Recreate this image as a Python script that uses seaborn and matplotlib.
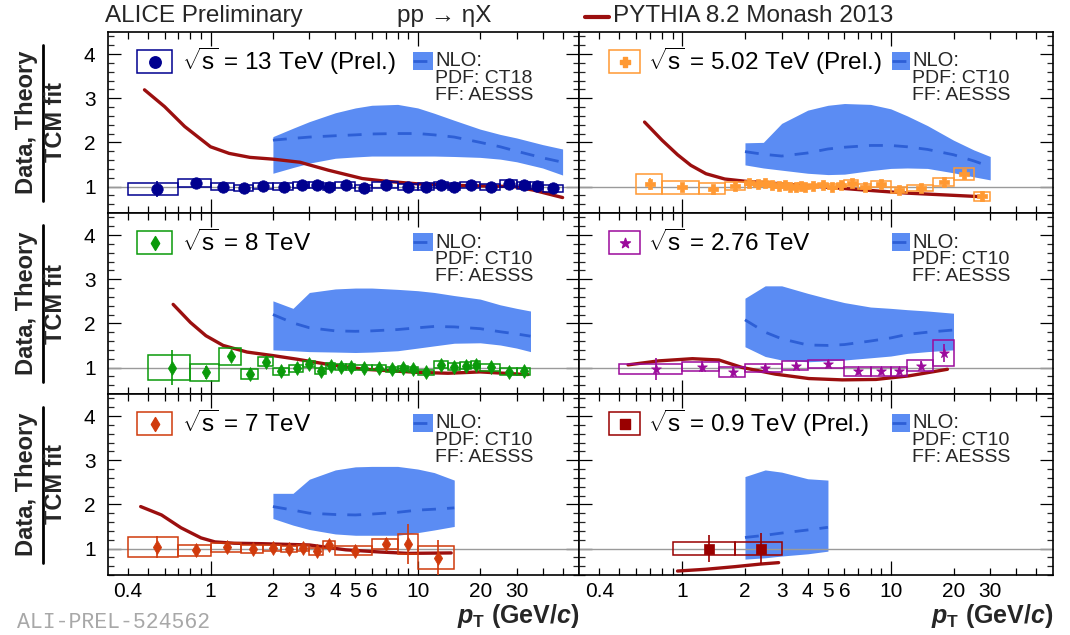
import matplotlib
matplotlib.use("Agg")
import matplotlib.pyplot as plt
import seaborn as sns
from matplotlib.patches import Rectangle
from matplotlib.lines import Line2D
from matplotlib.ticker import FixedLocator, FuncFormatter, MultipleLocator

# ---------------- data: ratio to TCM fit ----------------
# 13 TeV
edges_13 = [0.4, 0.7, 1.0, 1.3, 1.6, 2.0, 2.5, 3.0, 3.5, 4.0, 5.0, 6.0, 8.0, 10.0,
            12.0, 14.0, 16.0, 20.0, 25.0, 30.0, 35.0, 40.0, 50.0]
ratio_13 = [0.94, 1.07, 1.00, 0.97, 1.01, 1.00, 1.04, 1.03, 1.00, 1.03, 0.97, 1.04,
            0.98, 1.00, 1.03, 1.00, 1.03, 0.98, 1.06, 1.03, 1.02, 0.96]
stat_13 = [0.18, 0.04, 0.02, 0.02, 0.02, 0.02, 0.02, 0.02, 0.02, 0.02, 0.02, 0.02,
           0.02, 0.02, 0.02, 0.02, 0.02, 0.03, 0.03, 0.03, 0.04, 0.05]
sys_13 = [0.13, 0.09, 0.07, 0.07, 0.07, 0.07, 0.07, 0.07, 0.07, 0.07, 0.07, 0.07,
          0.07, 0.07, 0.07, 0.07, 0.07, 0.07, 0.08, 0.08, 0.08, 0.08]
pythia_x_13 = [0.48, 0.6, 0.75, 1.0, 1.23, 1.55, 2.0, 2.7, 3.7, 5.4, 7.0, 10.0, 17.0, 29.0, 36.0, 50.0]
pythia_y_13 = [3.19, 2.81, 2.36, 1.90, 1.75, 1.66, 1.62, 1.55, 1.37, 1.18, 1.12, 1.06, 1.02, 1.00, 0.92, 0.75]
nlo_x_13 = [2, 2.5, 3, 4, 5, 6, 8, 10, 12, 15, 20, 25, 30, 40, 50]
nlo_lo_13 = [1.30, 1.43, 1.53, 1.64, 1.67, 1.69, 1.69, 1.69, 1.69, 1.68, 1.66, 1.62, 1.56, 1.42, 1.26]
nlo_mid_13 = [2.05, 2.09, 2.12, 2.15, 2.17, 2.19, 2.20, 2.20, 2.17, 2.12, 2.00, 1.90, 1.80, 1.65, 1.55]
nlo_hi_13 = [2.13, 2.32, 2.47, 2.67, 2.78, 2.84, 2.86, 2.78, 2.66, 2.50, 2.30, 2.18, 2.10, 1.95, 1.85]

# 5.02 TeV
edges_502 = [0.6, 0.8, 1.2, 1.6, 2.0, 2.2, 2.4, 2.6, 2.8, 3.0, 3.2, 3.4, 3.6, 3.8, 4.0,
             4.5, 5.0, 5.5, 6.0, 7.0, 8.0, 10.0, 12.0, 16.0, 20.0, 25.0, 30.0]
ratio_502 = [1.06, 0.98, 0.95, 1.02, 1.08, 1.05, 1.07, 1.03, 1.02, 1.04, 1.00, 0.98,
             1.02, 0.99, 1.01, 1.03, 1.00, 1.04, 1.08, 1.00, 1.06, 0.92, 0.97, 1.11, 1.28, 0.78]
stat_502 = [0.13, 0.05, 0.04, 0.03, 0.03, 0.03, 0.03, 0.03, 0.03, 0.03, 0.03, 0.03,
            0.03, 0.03, 0.03, 0.03, 0.03, 0.03, 0.03, 0.03, 0.04, 0.05, 0.05, 0.07, 0.09, 0.1]
sys_502 = [0.23, 0.14, 0.12, 0.09, 0.05, 0.05, 0.05, 0.05, 0.05, 0.05, 0.05, 0.05,
           0.05, 0.05, 0.05, 0.05, 0.05, 0.05, 0.07, 0.06, 0.07, 0.07, 0.07, 0.09, 0.13, 0.1]
pythia_x_502 = [0.66, 0.8, 0.95, 1.1, 1.3, 1.6, 2.0, 3.0, 4.5, 7.0, 12.0, 20.0, 27.0]
pythia_y_502 = [2.46, 2.05, 1.72, 1.48, 1.29, 1.17, 1.12, 1.06, 1.00, 0.93, 0.85, 0.80, 0.77]
nlo_x_502 = [2, 2.45, 3, 4, 5, 6, 8, 10, 12, 15, 20, 25, 30]
nlo_lo_502 = [1.49, 1.42, 1.37, 1.30, 1.27, 1.28, 1.36, 1.41, 1.42, 1.41, 1.31, 1.22, 1.15]
nlo_mid_502 = [1.79, 1.73, 1.69, 1.76, 1.85, 1.89, 1.93, 1.93, 1.90, 1.84, 1.72, 1.58, 1.45]
nlo_hi_502 = [1.99, 2.00, 2.43, 2.73, 2.84, 2.88, 2.86, 2.76, 2.60, 2.38, 2.05, 1.83, 1.68]

# 8 TeV
edges_8 = [0.5, 0.8, 1.1, 1.4, 1.7, 2.0, 2.4, 2.8, 3.2, 3.6, 4.0, 4.5, 5.0, 6.0, 7.0,
           8.0, 9.0, 10.0, 12.0, 14.0, 16.0, 18.0, 20.0, 25.0, 30.0, 35.0]
ratio_8 = [1.00, 0.89, 1.25, 0.85, 1.13, 0.91, 0.98, 1.08, 0.92, 1.04, 1.01, 1.01,
           1.00, 1.00, 0.96, 0.98, 0.96, 0.89, 1.06, 1.02, 1.04, 1.06, 1.01, 0.90, 0.91]
stat_8 = [0.40, 0.15, 0.08, 0.05, 0.05, 0.04, 0.03, 0.03, 0.03, 0.03, 0.03, 0.03,
          0.03, 0.03, 0.03, 0.03, 0.03, 0.03, 0.03, 0.03, 0.03, 0.04, 0.04, 0.05, 0.06]
sys_8 = [0.28, 0.19, 0.20, 0.11, 0.10, 0.09, 0.08, 0.07, 0.07, 0.07, 0.06, 0.06,
         0.06, 0.06, 0.06, 0.06, 0.06, 0.06, 0.08, 0.08, 0.08, 0.08, 0.08, 0.08, 0.09]
pythia_x_8 = [0.66, 0.8, 0.95, 1.15, 1.5, 2.0, 2.6, 3.7, 5.5, 10.0, 14.0, 20.0, 34.0]
pythia_y_8 = [2.43, 2.02, 1.72, 1.50, 1.35, 1.27, 1.19, 1.07, 0.96, 0.89, 0.87, 0.90, 0.84]
nlo_x_8 = [2, 2.5, 3, 4, 5, 6, 8, 10, 12, 15, 20, 25, 30, 35]
nlo_lo_8 = [1.40, 1.38, 1.36, 1.35, 1.34, 1.35, 1.38, 1.44, 1.49, 1.55, 1.56, 1.51, 1.44, 1.36]
nlo_mid_8 = [2.20, 2.01, 1.90, 1.83, 1.82, 1.83, 1.86, 1.90, 1.93, 1.92, 1.88, 1.81, 1.76, 1.71]
nlo_hi_8 = [2.51, 2.34, 2.70, 2.78, 2.80, 2.80, 2.77, 2.74, 2.70, 2.63, 2.55, 2.42, 2.34, 2.28]

# 2.76 TeV
edges_276 = [0.5, 1.0, 1.5, 2.0, 3.0, 4.0, 6.0, 8.0, 10.0, 12.0, 16.0, 20.0]
ratio_276 = [0.96, 1.02, 0.90, 0.99, 1.04, 1.08, 0.91, 0.91, 0.91, 1.04, 1.33]
stat_276 = [0.25, 0.12, 0.12, 0.06, 0.08, 0.08, 0.08, 0.08, 0.08, 0.10, 0.20]
sys_276 = [0.11, 0.11, 0.12, 0.10, 0.10, 0.10, 0.11, 0.11, 0.11, 0.12, 0.29]
pythia_x_276 = [0.55, 0.77, 1.12, 1.5, 1.94, 2.8, 4.05, 5.85, 8.5, 12.2, 18.7]
pythia_y_276 = [1.06, 1.15, 1.20, 1.17, 1.00, 0.85, 0.75, 0.72, 0.73, 0.81, 0.96]
nlo_x_276 = [2, 2.5, 3, 4, 5, 6, 8, 10, 12, 15, 20]
nlo_lo_276 = [1.47, 1.25, 1.17, 1.13, 1.15, 1.17, 1.22, 1.26, 1.32, 1.36, 1.40]
nlo_mid_276 = [2.08, 1.80, 1.65, 1.51, 1.50, 1.52, 1.60, 1.67, 1.75, 1.80, 1.85]
nlo_hi_276 = [2.57, 2.85, 2.85, 2.68, 2.56, 2.47, 2.37, 2.34, 2.31, 2.28, 2.23]

# 7 TeV
edges_7 = [0.4, 0.7, 1.0, 1.4, 1.8, 2.2, 2.6, 3.0, 3.5, 4.0, 6.0, 8.0, 10.0, 15.0]
ratio_7 = [1.03, 0.96, 1.03, 0.98, 1.01, 0.99, 1.01, 0.94, 1.09, 0.95, 1.11, 1.10, 0.79]
stat_7 = [0.25, 0.10, 0.06, 0.05, 0.05, 0.05, 0.05, 0.06, 0.07, 0.08, 0.12, 0.45, 0.40]
sys_7 = [0.23, 0.12, 0.10, 0.09, 0.07, 0.07, 0.07, 0.08, 0.08, 0.10, 0.11, 0.23, 0.26]
pythia_x_7 = [0.46, 0.58, 0.72, 0.9, 1.05, 1.3, 1.75, 3.0, 4.5, 6.6, 9.0, 14.5]
pythia_y_7 = [1.95, 1.76, 1.47, 1.24, 1.15, 1.12, 1.11, 1.08, 0.97, 0.92, 0.89, 0.90]
nlo_x_7 = [2, 2.5, 3, 4, 5, 6, 8, 10, 12, 15]
nlo_lo_7 = [1.68, 1.53, 1.43, 1.33, 1.30, 1.30, 1.30, 1.36, 1.42, 1.50]
nlo_mid_7 = [1.95, 1.87, 1.80, 1.77, 1.76, 1.78, 1.82, 1.87, 1.89, 1.92]
nlo_hi_7 = [2.25, 2.25, 2.57, 2.78, 2.85, 2.86, 2.86, 2.80, 2.72, 2.55]

# 0.9 TeV
edges_09 = [0.9, 1.8, 3.0]
ratio_09 = [1.00, 1.00]
stat_09 = [0.31, 0.36]
sys_09 = [0.14, 0.14]
pythia_x_09 = [0.95, 1.3, 1.8, 2.4, 2.9]
pythia_y_09 = [0.49, 0.53, 0.59, 0.65, 0.68]
nlo_x_09 = [2, 2.5, 3, 4, 5]
nlo_lo_09 = [0.76, 0.79, 0.83, 0.88, 0.94]
nlo_mid_09 = [1.25, 1.30, 1.35, 1.42, 1.48]
nlo_hi_09 = [2.63, 2.78, 2.73, 2.58, 2.55]

energy_labels = ["13 TeV (Prel.)", "5.02 TeV (Prel.)", "8 TeV", "2.76 TeV", "7 TeV", "0.9 TeV (Prel.)"]
pdf_labels = ["CT18", "CT10", "CT10", "CT10", "CT10", "CT10"]
xtick_values = [0.4, 1, 2, 3, 4, 5, 6, 10, 20, 30]
xtick_texts = ["0.4", "1", "2", "3", "4", "5", "6", "10", "20", "30"]

# ---------------- style ----------------
sns.set_theme(style="ticks")
plt.rcParams["font.family"] = ["Liberation Sans", "DejaVu Sans"]
plt.rcParams["mathtext.fontset"] = "custom"
plt.rcParams["mathtext.rm"] = "Liberation Sans"
plt.rcParams["mathtext.it"] = "Liberation Sans:italic:bold"
plt.rcParams["mathtext.bf"] = "Liberation Sans:bold"

BAND = "#5b8cf3"
DASH = "#2d5fd6"
PYTHIA = "#9b0f0f"
REFLINE = "#9a9a9a"

W, H = 1070, 635
fig = plt.figure(figsize=(W / 100, H / 100), dpi=100)
fig.patch.set_facecolor("white")

cols = [(108, 471), (579, 474)]          # left, width in pixels
rows = [(32, 181), (213, 181), (394, 181)]  # top, height in pixels

panels = [
    dict(edges=edges_13, y=ratio_13, stat=stat_13, sys=sys_13, px=pythia_x_13, py=pythia_y_13,
         nx=nlo_x_13, nlo=nlo_lo_13, nmid=nlo_mid_13, nhi=nlo_hi_13,
         color="#00008f", marker="o", ms=68),
    dict(edges=edges_502, y=ratio_502, stat=stat_502, sys=sys_502, px=pythia_x_502, py=pythia_y_502,
         nx=nlo_x_502, nlo=nlo_lo_502, nmid=nlo_mid_502, nhi=nlo_hi_502,
         color="#ff9933", marker="P", ms=45),
    dict(edges=edges_8, y=ratio_8, stat=stat_8, sys=sys_8, px=pythia_x_8, py=pythia_y_8,
         nx=nlo_x_8, nlo=nlo_lo_8, nmid=nlo_mid_8, nhi=nlo_hi_8,
         color="#0a9a0a", marker="d", ms=50),
    dict(edges=edges_276, y=ratio_276, stat=stat_276, sys=sys_276, px=pythia_x_276, py=pythia_y_276,
         nx=nlo_x_276, nlo=nlo_lo_276, nmid=nlo_mid_276, nhi=nlo_hi_276,
         color="#9b0a9b", marker="*", ms=55),
    dict(edges=edges_7, y=ratio_7, stat=stat_7, sys=sys_7, px=pythia_x_7, py=pythia_y_7,
         nx=nlo_x_7, nlo=nlo_lo_7, nmid=nlo_mid_7, nhi=nlo_hi_7,
         color="#d03a0c", marker="d", ms=50),
    dict(edges=edges_09, y=ratio_09, stat=stat_09, sys=sys_09, px=pythia_x_09, py=pythia_y_09,
         nx=nlo_x_09, nlo=nlo_lo_09, nmid=nlo_mid_09, nhi=nlo_hi_09,
         color="#990000", marker="s", ms=45),
]

label_map = {round(v, 3): t for v, t in zip(xtick_values, xtick_texts)}
xminor = [0.4, 0.5, 0.6, 0.7, 0.8, 0.9, 2, 3, 4, 5, 6, 7, 8, 9, 20, 30, 40, 50]


def fmt_x(v, pos):
    return label_map.get(round(v, 3), "")


for i, p in enumerate(panels):
    r, c = divmod(i, 2)
    x0, w = cols[c]
    top, h = rows[r]
    ax = fig.add_axes([x0 / W, 1 - (top + h) / H, w / W, h / H])
    ax.set_xscale("log")
    ax.set_xlim(0.32, 60)
    ax.set_ylim(0.4, 4.5)
    ax.set_facecolor("white")

    # NLO band + central value
    ax.fill_between(p["nx"], p["nlo"], p["nhi"], color=BAND, lw=0, zorder=1)
    sns.lineplot(x=p["nx"], y=p["nmid"], ax=ax, color=DASH, lw=2.0, linestyle=(0, (5, 4)),
                 estimator=None, sort=False, legend=False, zorder=2)
    ax.axhline(1.0, color=REFLINE, lw=1.0, zorder=2.5)

    # PYTHIA
    sns.lineplot(x=p["px"], y=p["py"], ax=ax, color=PYTHIA, lw=2.4,
                 estimator=None, sort=False, legend=False, zorder=3)

    # data: systematic boxes, statistical bars, markers
    edges = p["edges"]
    centers = [(a + b) / 2 for a, b in zip(edges[:-1], edges[1:])]
    for a, b, v, s in zip(edges[:-1], edges[1:], p["y"], p["sys"]):
        ax.add_patch(Rectangle((a, v - s), b - a, 2 * s, fill=False, ec=p["color"], lw=1.1, zorder=4))
    ax.errorbar(centers, p["y"], yerr=p["stat"], fmt="none", ecolor=p["color"], elinewidth=1.2,
                capsize=0, zorder=5)
    sns.scatterplot(x=centers, y=p["y"], ax=ax, marker=p["marker"], s=p["ms"], color=p["color"],
                    edgecolor=p["color"], linewidth=0.5, legend=False, zorder=6)

    # axes styling
    for sp in ax.spines.values():
        sp.set_color("black")
        sp.set_linewidth(1.2)
        sp.set_visible(True)
    ax.xaxis.set_major_locator(FixedLocator([1, 10]))
    ax.xaxis.set_minor_locator(FixedLocator(xminor))
    ax.xaxis.set_major_formatter(FuncFormatter(fmt_x))
    ax.xaxis.set_minor_formatter(FuncFormatter(fmt_x))
    ax.yaxis.set_major_locator(MultipleLocator(1))
    ax.yaxis.set_minor_locator(MultipleLocator(0.2))
    ax.tick_params(axis="x", which="major", direction="in", length=10, width=0.9,
                   top=True, bottom=True, pad=5, labelsize=15, colors="black")
    ax.tick_params(axis="x", which="minor", direction="in", length=5, width=0.9,
                   top=True, bottom=True, pad=5, labelsize=15, colors="black")
    ax.tick_params(axis="y", which="major", direction="in", length=9.5, width=0.9,
                   left=True, right=True, pad=9, labelsize=15, colors="black")
    ax.tick_params(axis="y", which="minor", direction="in", length=4.5, width=0.9,
                   left=True, right=True)
    ax.tick_params(axis="x", which="both", labelbottom=(r == 2))
    ax.tick_params(axis="y", which="both", labelleft=(c == 0))
    ax.set_xlabel("")
    ax.set_ylabel("")

    # legend: data entry
    def axf(dx, dy):
        return dx / w, 1 - dy / h

    bx0, bx1, tx = (29, 64, 74) if c == 0 else (30, 61, 69)
    lx0, ly0 = axf(bx0, 41)
    lx1, ly1 = axf(bx1, 18)
    ax.add_patch(Rectangle((lx0, ly0), lx1 - lx0, ly1 - ly0, transform=ax.transAxes, fill=False,
                           ec=p["color"], lw=1.1, zorder=7))
    ax.scatter([(lx0 + lx1) / 2], [(ly0 + ly1) / 2], transform=ax.transAxes, marker=p["marker"],
               s=p["ms"], color=p["color"], zorder=8, clip_on=False)
    ax.text(*axf(tx, 29.5), r"$\sqrt{\mathrm{s}}$ = " + energy_labels[i], transform=ax.transAxes,
            fontsize=17.5, va="center", ha="left", color="black")

    # legend: NLO entry
    nx0, nx1, ntx = (305, 325, 327) if c == 0 else (313, 331, 333)
    rx0, ry0 = axf(nx0, 38)
    rx1, ry1 = axf(nx1, 20)
    ax.add_patch(Rectangle((rx0, ry0), rx1 - rx0, ry1 - ry0, transform=ax.transAxes,
                           color=BAND, lw=0, zorder=7))
    ax.add_line(Line2D([rx0, rx1], [(ry0 + ry1) / 2] * 2, transform=ax.transAxes, color=DASH,
                       lw=2.0, linestyle=(0, (5, 4)), zorder=8))
    ax.text(*axf(ntx, 29), "NLO:", transform=ax.transAxes, fontsize=14.5, va="center", ha="left")
    ax.text(*axf(ntx, 46.5), "PDF: " + pdf_labels[i], transform=ax.transAxes, fontsize=14,
            va="center", ha="left")
    ax.text(*axf(ntx, 63.5), "FF: AESSS", transform=ax.transAxes, fontsize=14,
            va="center", ha="left")

    if r == 2:
        ax.text(1.0, -0.225, r"$p_{\mathbf{T}}$ (GeV/$c$)", transform=ax.transAxes, fontsize=18,
                fontweight="bold", ha="right", va="center")

# y-axis titles drawn as a fraction for each row
for top, h in rows:
    cy = top + h / 2
    fig.text(27 / W, 1 - cy / H, "Data, Theory", rotation=90, fontsize=17, fontweight="bold",
             ha="center", va="center")
    fig.text(55 / W, 1 - cy / H, "TCM fit", rotation=90, fontsize=17, fontweight="bold",
             ha="center", va="center")
    fig.add_artist(Line2D([42.5 / W, 42.5 / W], [1 - (cy + 78) / H, 1 - (cy - 78) / H],
                          transform=fig.transFigure, color="black", lw=2.0))

# header
fig.text(105 / W, 1 - 16 / H, "ALICE Preliminary", fontsize=17.5, ha="left", va="center")
fig.text(444 / W, 1 - 16 / H, "pp \u2192 \u03b7X", fontsize=17.5, ha="center", va="center")
fig.add_artist(Line2D([585 / W, 609 / W], [1 - 17 / H] * 2, transform=fig.transFigure,
                      color=PYTHIA, lw=3.0))
fig.text(613 / W, 1 - 16 / H, "PYTHIA 8.2 Monash 2013", fontsize=17.5, ha="left", va="center")

fig.text(17 / W, 1 - 622 / H, "ALI-PREL-524562", fontsize=15.5, family="Liberation Mono",
         color="#a8a8a8", ha="left", va="center")

fig.savefig("out.png", dpi=100, facecolor="white")
